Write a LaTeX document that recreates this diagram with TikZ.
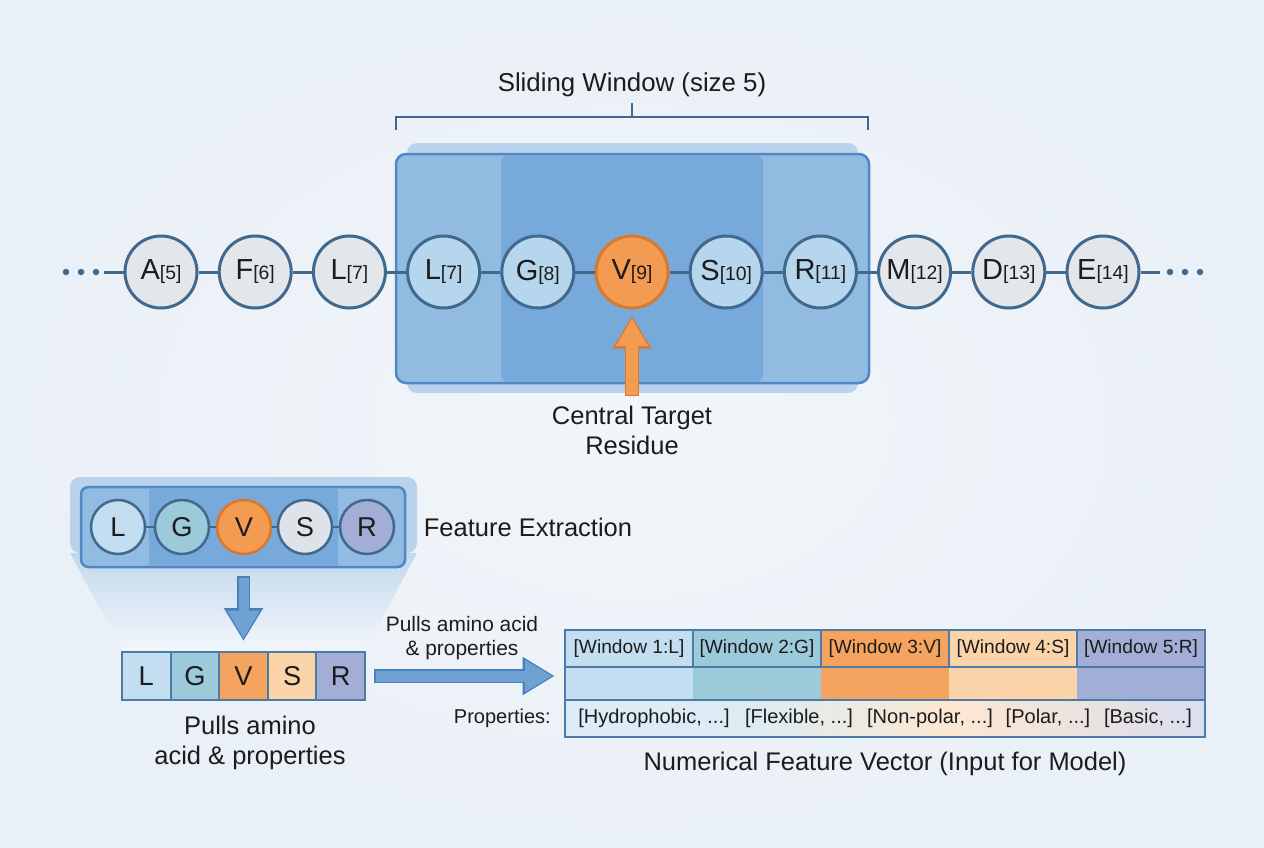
\documentclass[tikz,border=0pt]{standalone}
\usepackage{fontspec}
\setmainfont{Liberation Sans}
\usetikzlibrary{arrows.meta,positioning}

\definecolor{bgmid}{HTML}{F2F6FA}
\definecolor{bgedge}{HTML}{EAF0F7}
\definecolor{inkc}{HTML}{1C1C1C}
\definecolor{ringblue}{HTML}{41698D}
\definecolor{resgray}{HTML}{E3E6EA}
\definecolor{resblue}{HTML}{B6D6ED}
\definecolor{resorange}{HTML}{F39B50}
\definecolor{ringorange}{HTML}{D8782E}
\definecolor{winhalo}{HTML}{B9D3EC}
\definecolor{winfill}{HTML}{92BBE2}
\definecolor{wincore}{HTML}{77AADB}
\definecolor{winedge}{HTML}{4F88C2}
\definecolor{arrowblue}{HTML}{6FA2D2}
\definecolor{arrowedge}{HTML}{4A80B8}
\definecolor{celledge}{HTML}{4E7BA6}
\definecolor{cL}{HTML}{C3DDF1}
\definecolor{cG}{HTML}{9DCADB}
\definecolor{cV}{HTML}{F4A45E}
\definecolor{cS}{HTML}{FBD4AA}
\definecolor{cR}{HTML}{A3AED6}
\definecolor{sS}{HTML}{DEE3EA}

\newcommand{\resid}[2]{{\fontsize{16.5pt}{18pt}\selectfont #1}{\fontsize{11pt}{12pt}\selectfont[#2]}}

\begin{document}
\begin{tikzpicture}[x=0.2mm, y=-0.2mm,
  every node/.style={font=\fontsize{14.5pt}{17pt}\selectfont, text=inkc},
  res/.style={circle, draw=ringblue, line width=0.6mm, fill=resgray, minimum size=14.4mm, inner sep=0pt},
  inres/.style={res, fill=resblue},
  target/.style={res, draw=ringorange, fill=resorange},
  small/.style={circle, draw=ringblue, line width=0.5mm, minimum size=10.8mm, inner sep=0pt, font=\fontsize{15.5pt}{17pt}\selectfont},
  cell/.style={draw=celledge, line width=0.4mm, minimum width=9.72mm, minimum height=9.6mm, inner sep=0pt, font=\fontsize{15.5pt}{17pt}\selectfont},
  vcell/.style={draw=celledge, line width=0.4mm, minimum width=25.6mm, minimum height=7.4mm, inner sep=0pt, font=\fontsize{10.9pt}{12pt}\selectfont},
  band/.style={minimum width=25.6mm, minimum height=6.6mm, inner sep=0pt},
  link/.style={draw=ringblue, line width=0.6mm},
  prop/.style={font=\fontsize{11.4pt}{13pt}\selectfont}]

  % background
  \useasboundingbox (0,0) rectangle (1264,848);
  \shade[inner color=bgmid, outer color=bgedge] (0,0) rectangle (1264,848);

  % title and bracket
  \node (title) at (632,85) {\fontsize{14.7pt}{17pt}\selectfont Sliding Window (size 5)};
  \draw[ringblue, line width=0.3mm] (396,130) -- (396,117) -- (868,117) -- (868,130);
  \draw[ringblue, line width=0.3mm] (632,117) -- (632,103);

  % window
  \fill[winhalo, rounded corners=2mm] (407,143) rectangle (858,393);
  \draw[winedge, fill=winfill, line width=0.5mm, rounded corners=2mm] (396,154) rectangle (869,383);
  \fill[wincore, rounded corners=1.5mm] (501,155) rectangle (763,382);

  % residue chain
  \foreach \i/\aa/\idx/\kind in {1/A/5/res, 2/F/6/res, 3/L/7/res, 4/L/7/inres, 5/G/8/inres,
      6/V/9/target, 7/S/10/inres, 8/R/11/inres, 9/M/12/res, 10/D/13/res, 11/E/14/res}
    \node[\kind] (p\i) at ({632+94.2*(\i-6)},272) {\resid{\aa}{\idx}};

  \coordinate (dl) at (104,272);
  \coordinate (dr) at (1160,272);
  \draw[link] (dl) -- (p1);
  \foreach \i [evaluate=\i as \j using int(\i+1)] in {1,...,10}
    \draw[link] (p\i) -- (p\j);
  \draw[link] (p11) -- (dr);
  \foreach \x in {66,81,96,1170,1185,1200}
    \fill[ringblue] (\x,272) circle (0.65mm);

  % target arrow
  \node[align=center] (cap) at (632,430) {Central Target\\Residue};
  \coordinate (tbase) at (632,396);
  \draw[ringorange, line width=2.9mm, shorten >=1.2mm, -{Triangle[width=7.2mm,length=6.6mm]}] (tbase) -- (p6.south);
  \draw[resorange, line width=2.3mm, shorten >=1.7mm, shorten <=0.3mm, -{Triangle[width=6mm,length=5.6mm]}] (tbase) -- (p6.south);

  % extracted window
  \fill[winhalo, rounded corners=2mm] (70,477) rectangle (417,553);
  \shade[top color=winhalo!85!bgmid, bottom color=bgmid] (70,553) -- (417,553) -- (365,650) -- (122,650) -- cycle;
  \draw[winedge, fill=winfill, line width=0.5mm, rounded corners=1.5mm] (81,487) rectangle (405,567);
  \fill[wincore] (149,488) rectangle (338,566);

  \node[small, fill=cL] (q1) at (118,527) {L};
  \node[small, fill=cG] (q2) at (182,527) {G};
  \node[small, fill=resorange, draw=ringorange] (q3) at (244,527) {V};
  \node[small, fill=sS] (q4) at (305,527) {S};
  \node[small, fill=cR] (q5) at (367,527) {R};
  \foreach \i [evaluate=\i as \j using int(\i+1)] in {1,...,4}
    \draw[ringblue, line width=0.5mm] (q\i) -- (q\j);

  \node (feat) at (528,527) {Feature Extraction};

  % residue strip
  \foreach \i/\aa/\col in {1/L/cL, 2/G/cG, 3/V/cV, 4/S/cS, 5/R/cR}
    \node[cell, fill=\col] (s\i) at ({243.5+48.6*(\i-3)},676) {\aa};

  \coordinate (dtop) at (243.5,576);
  \draw[arrowedge, line width=2.6mm, shorten >=2.0mm, -{Triangle[width=7.4mm,length=6.6mm]}] (dtop) -- (s3.north);
  \draw[arrowblue, line width=2.0mm, shorten >=2.5mm, shorten <=0.3mm, -{Triangle[width=6.2mm,length=5.6mm]}] (dtop) -- (s3.north);

  \node[align=center] (pulls) at (250,743) {Pulls amino\\acid \& properties};

  % feature vector
  \foreach \i/\aa/\col in {1/L/cL, 2/G/cG, 3/V/cV, 4/S/cS, 5/R/cR} {
    \node[band, fill=\col] (b\i) at ({629+128*(\i-1)},683.5) {};
    \node[vcell, fill=\col] (w\i) at ({629+128*(\i-1)},648.5) {[Window \i:\aa]};
  }
  \shade[left color=cL!55!white, right color=cG!35!white] (565,700) rectangle (757,737);
  \shade[left color=cG!35!white, right color=cS!55!white] (757,737) rectangle (949,700);
  \shade[left color=cS!55!white, right color=cR!40!white] (949,700) rectangle (1205,737);
  \node[draw=celledge, line width=0.4mm, minimum width=128mm, minimum height=7.4mm] (prow) at (885,718.5) {};
  \draw[celledge, line width=0.5mm] (565,630) rectangle (1205,737);

  \node[prop, anchor=east] (plab) at (557,718) {Properties:};
  \node[prop] (h1) at (654,718) {[Hydrophobic, ...]};
  \node[prop] (h2) at (799,718) {[Flexible, ...]};
  \node[prop] (h3) at (930,718) {[Non-polar, ...]};
  \node[prop] (h4) at (1048,718) {[Polar, ...]};
  \node[prop] (h5) at (1148,718) {[Basic, ...]};

  \node (vec) at (885,764) {Numerical Feature Vector (Input for Model)};

  % strip to vector
  \draw[arrowedge, line width=2.8mm, shorten <=1.6mm, shorten >=2mm, -{Triangle[width=7.2mm,length=6.4mm]}] (s5.east) -- (s5.east -| b1.west);
  \draw[arrowblue, line width=2.2mm, shorten <=1.9mm, shorten >=2.5mm, -{Triangle[width=6mm,length=5.4mm]}] (s5.east) -- (s5.east -| b1.west);
  \node[align=center, font=\fontsize{11.9pt}{13.6pt}\selectfont] (pulls2) at (462,638) {Pulls amino acid\\\& properties};
\end{tikzpicture}
\end{document}
